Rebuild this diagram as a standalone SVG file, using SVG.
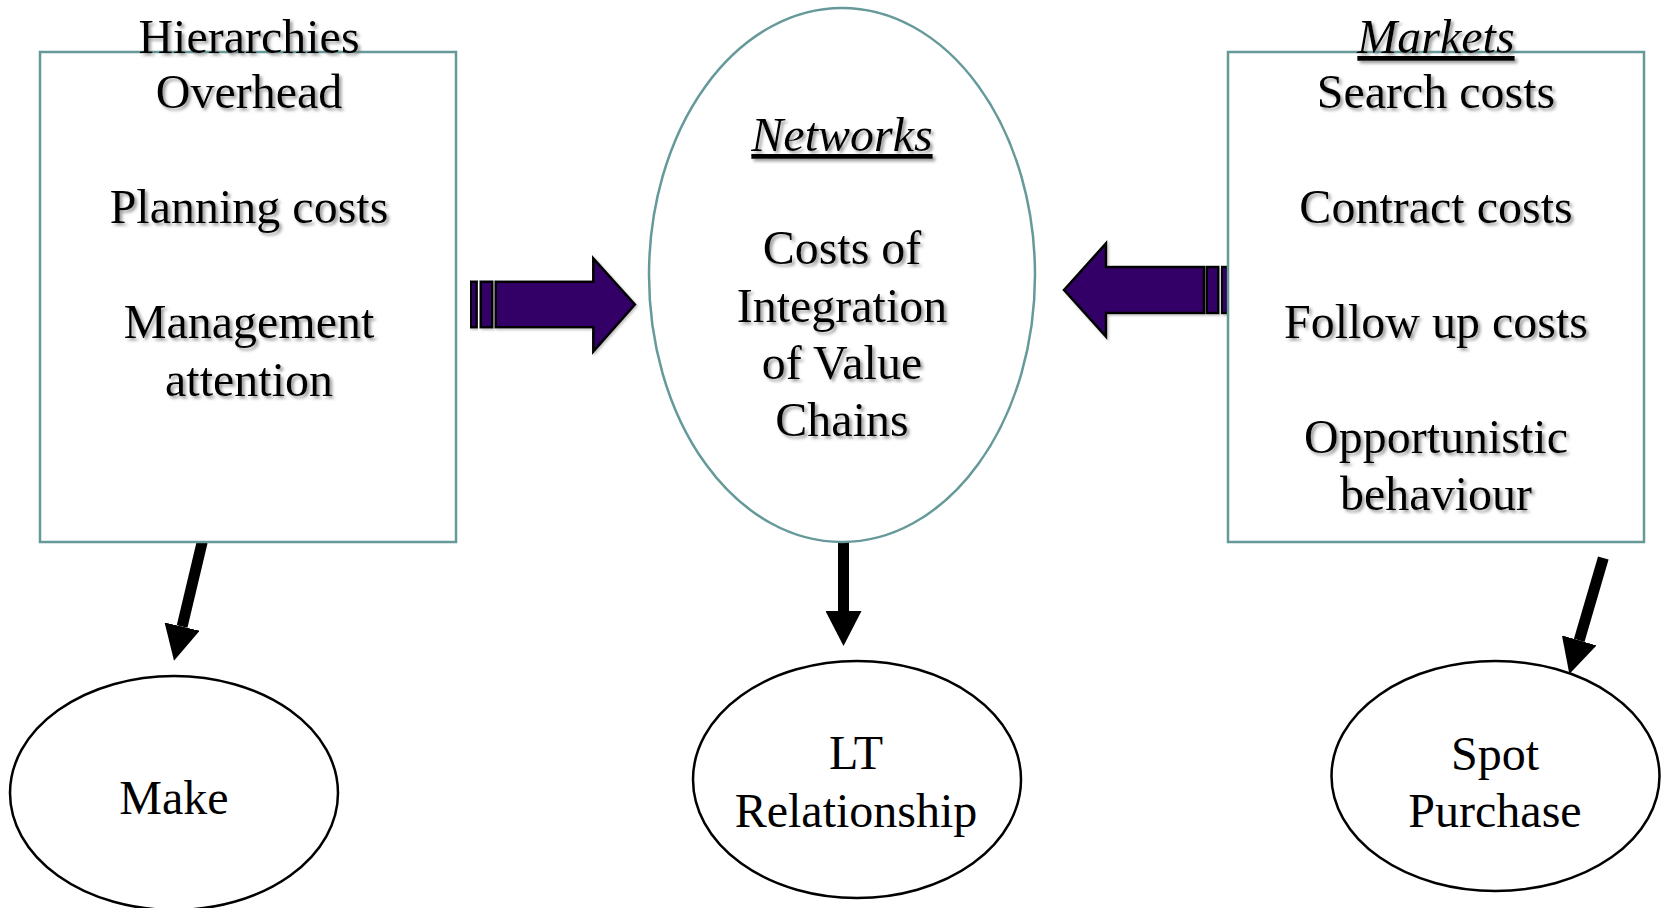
<svg xmlns="http://www.w3.org/2000/svg" width="1661" height="908" viewBox="0 0 1661 908">
<style>
  .box { fill: #ffffff; stroke: #669999; stroke-width: 2.5; }
  .oval { fill: #ffffff; stroke: #000000; stroke-width: 2.5; }
  .t { font-family: "Liberation Serif", "Times New Roman", serif; font-size: 48px; fill: #000; text-anchor: middle; }
  .sh { filter: url(#shadow); }
  .it { font-style: italic; text-decoration: underline; }
  .b { font-family: "Liberation Serif", "Times New Roman", serif; font-size: 48px; fill: #000; text-anchor: middle; }
  .block { fill: #330066; stroke: #000; stroke-width: 2.5; stroke-linejoin: miter; filter: url(#bshadow); }
  .conn { stroke: #000; stroke-width: 11; fill: none; marker-end: url(#head); }
</style>
<defs>
  <filter id="shadow" x="-10%" y="-30%" width="130%" height="170%">
    <feDropShadow dx="2.5" dy="2.5" stdDeviation="1.6" flood-color="#7a7a7a" flood-opacity="0.75"/>
  </filter>
  <filter id="bshadow" x="-10%" y="-20%" width="130%" height="150%">
    <feDropShadow dx="1.5" dy="1.5" stdDeviation="0.8" flood-color="#999" flood-opacity="0.6"/>
  </filter>
  <marker id="head" viewBox="0 0 35 36" markerWidth="35" markerHeight="36" refX="0" refY="18" orient="auto" markerUnits="userSpaceOnUse">
    <path d="M0,0 L35,18 L0,36 z" fill="#000"/>
  </marker>
</defs>
<rect width="1661" height="908" fill="#ffffff"/>

<g id="connectors">
  <line class="conn" x1="202.2" y1="542" x2="182.1" y2="626.6"/>
  <line class="conn" x1="843.5" y1="542" x2="843.5" y2="611"/>
  <line class="conn" x1="1603.3" y1="558" x2="1579.2" y2="640.4"/>
  <g id="arrow-right">
    <rect class="block" x="470.7" y="281.7" width="6" height="45.6"/>
    <rect class="block" x="480.7" y="281.7" width="11.6" height="45.6"/>
    <polygon class="block" points="495.7,281.7 593.3,281.7 593.3,258.3 635,304.5 593.3,351.7 593.3,327.3 495.7,327.3"/>
  </g>
  <g id="arrow-left">
    <polygon class="block" points="1204,267 1106,267 1106,243.3 1064,290 1106,336.7 1106,313 1204,313"/>
    <rect class="block" x="1206.7" y="267" width="11.6" height="46"/>
    <rect class="block" x="1221.7" y="267" width="6" height="46"/>
  </g>
</g>

<g id="hierarchies">
  <rect class="box" x="40" y="52" width="416" height="490"/>
  <g class="t sh">
    <text x="249" y="53">Hierarchies</text>
    <text x="249" y="107.5">Overhead</text>
    <text x="249" y="223">Planning costs</text>
    <text x="249" y="338">Management</text>
    <text x="249" y="396">attention</text>
  </g>
</g>

<g id="markets">
  <rect class="box" x="1228" y="52" width="416" height="490"/>
  <g class="t sh">
    <text class="it" x="1436" y="53">Markets</text>
    <text x="1436" y="107.5">Search costs</text>
    <text x="1436" y="223">Contract costs</text>
    <text x="1436" y="338">Follow up costs</text>
    <text x="1436" y="453">Opportunistic</text>
    <text x="1436" y="510">behaviour</text>
  </g>
</g>

<g id="networks">
  <ellipse cx="842" cy="275" rx="193" ry="267" fill="#fff" stroke="#669999" stroke-width="2.5"/>
  <g class="t sh">
    <text class="it" x="842" y="151">Networks</text>
    <text x="842" y="264">Costs of</text>
    <text x="842" y="321.5">Integration</text>
    <text x="842" y="379">of Value</text>
    <text x="842" y="436">Chains</text>
  </g>
</g>

<g id="make">
  <ellipse class="oval" cx="174" cy="793" rx="164" ry="117"/>
  <text class="b" x="174" y="813.5">Make</text>
</g>

<g id="lt-relationship">
  <ellipse class="oval" cx="857" cy="779.5" rx="164" ry="118.5"/>
  <text class="b" x="856" y="768.5">LT</text>
  <text class="b" x="856" y="826.5">Relationship</text>
</g>

<g id="spot-purchase">
  <ellipse class="oval" cx="1495.5" cy="776" rx="164" ry="115"/>
  <text class="b" x="1495" y="770">Spot</text>
  <text class="b" x="1495" y="827">Purchase</text>
</g>
</svg>
